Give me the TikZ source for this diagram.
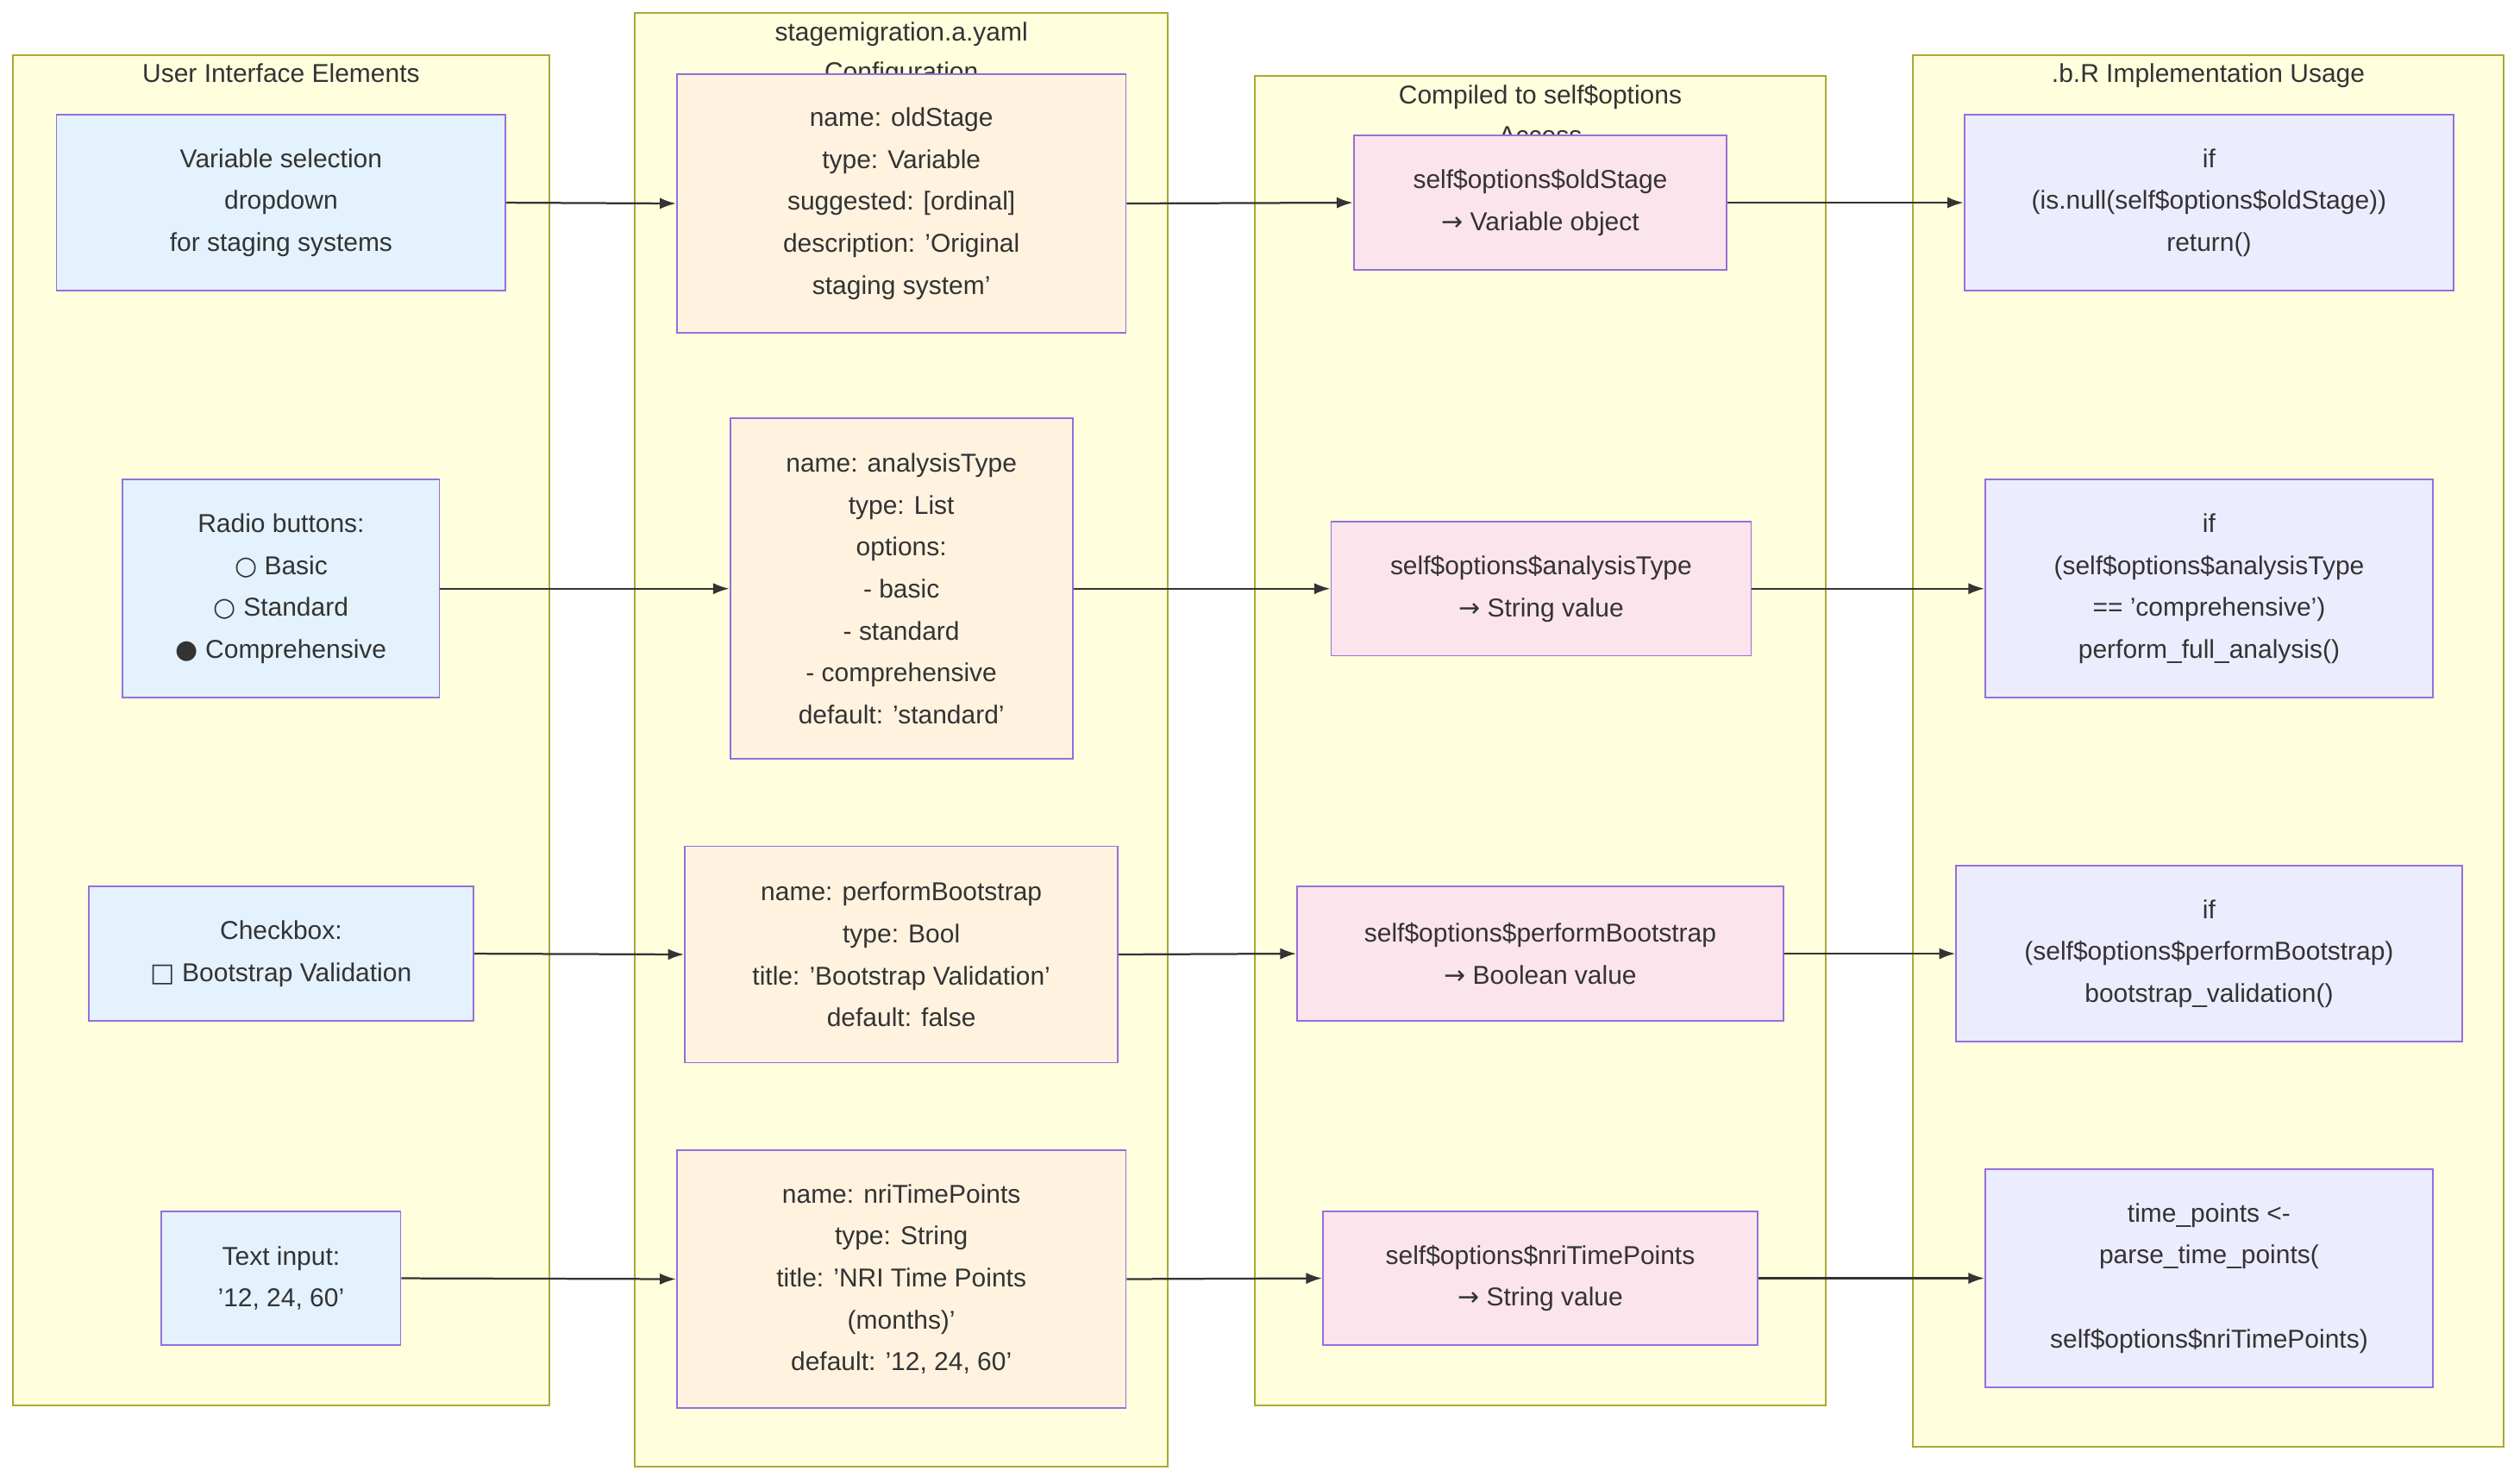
\documentclass[tikz,border=0pt]{standalone}
\usepackage{fontspec}
\setmainfont{Liberation Sans}
\newfontfamily\sym{DejaVu Sans}
\usetikzlibrary{arrows.meta}
\definecolor{sgf}{HTML}{FFFFDE}\definecolor{sgd}{HTML}{AAAA33}
\definecolor{ui}{HTML}{E3F2FD}\definecolor{ym}{HTML}{FFF3E0}
\definecolor{cp}{HTML}{FCE4EC}\definecolor{rr}{HTML}{ECECFF}
\definecolor{bd}{HTML}{9370DB}\definecolor{ln}{HTML}{333333}
\newcommand{\sg}[5]{\draw[sgd,fill=sgf,line width=1pt] (#1pt,-#2pt) rectangle (#3pt,-#4pt);
 \node[anchor=north,align=center,font=\fontsize{16}{25}\selectfont,text=ln] at ({(#1+#3)/2*1pt},-#2pt-2pt) {#5};}
\newcommand{\bx}[7]{\node[draw=bd,fill=#6,line width=1pt,align=center,inner sep=0pt,font=\fontsize{16}{26}\selectfont,text=ln,
 minimum width={(#4-#2)*1pt},minimum height={(#5-#3)*1pt}] (#1) at ({(#2+#4)/2*1pt},{-(#3+#5)/2*1pt}) {#7};}
\tikzset{ar/.style={draw=ln,line width=1.2pt,-{Latex[length=10pt,width=7pt]}}}
\begin{document}
\begin{tikzpicture}[x=1pt,y=1pt]
\useasboundingbox (0,0) rectangle (1560,-918);
\sg{8}{34}{340}{870}{User Interface Elements}
\sg{393}{8}{723}{908}{stagemigration.a.yaml\\Configuration}
\sg{777}{47}{1130}{870}{Compiled to self\$options\\Access}
\sg{1184}{34}{1550}{896}{.b.R Implementation Usage}
\bx{u1}{35}{71}{313}{180}{ui}{Variable selection\\dropdown\\for staging systems}
\bx{u2}{76}{297}{272}{432}{ui}{Radio buttons:\\{\sym ○} Basic\\{\sym ○} Standard\\{\sym ●} Comprehensive}
\bx{u3}{55}{549}{293}{632}{ui}{Checkbox:\\{\sym □} Bootstrap Validation}
\bx{u4}{100}{750}{248}{833}{ui}{Text input:\\'12, 24, 60'}
\bx{y1}{419}{46}{697}{206}{ym}{name: oldStage\\type: Variable\\suggested: [ordinal]\\description: 'Original\\staging system'}
\bx{y2}{452}{259}{664}{470}{ym}{name: analysisType\\type: List\\options:\\- basic\\- standard\\- comprehensive\\default: 'standard'}
\bx{y3}{424}{524}{692}{658}{ym}{name: performBootstrap\\type: Bool\\title: 'Bootstrap Validation'\\default: false}
\bx{y4}{419}{712}{697}{872}{ym}{name: nriTimePoints\\type: String\\title: 'NRI Time Points\\(months)'\\default: '12, 24, 60'}
\bx{c1}{838}{84}{1069}{167}{cp}{self\$options\$oldStage\\{\sym →} Variable object}
\bx{c2}{824}{323}{1084}{406}{cp}{self\$options\$analysisType\\{\sym →} String value}
\bx{c3}{803}{549}{1104}{632}{cp}{self\$options\$performBootstrap\\{\sym →} Boolean value}
\bx{c4}{819}{750}{1088}{833}{cp}{self\$options\$nriTimePoints\\{\sym →} String value}
\bx{r1}{1216}{71}{1519}{180}{rr}{if\\(is.null(self\$options\$oldStage))\\return()}
\bx{r2}{1229}{297}{1506}{432}{rr}{if\\(self\$options\$analysisType\\== 'comprehensive')\\perform\_full\_analysis()}
\bx{r3}{1211}{536}{1524}{645}{rr}{if\\(self\$options\$performBootstrap)\\bootstrap\_validation()}
\bx{r4}{1229}{724}{1506}{859}{rr}{time\_points <-\\parse\_time\_points(\\\\self\$options\$nriTimePoints)}
\foreach \i in {1,2,3,4}{
 \draw[ar] (u\i.east) -- (y\i.west);
 \draw[ar] (y\i.east) -- (c\i.west);
 \draw[ar] (c\i.east) -- (r\i.west);}
\end{tikzpicture}
\end{document}
